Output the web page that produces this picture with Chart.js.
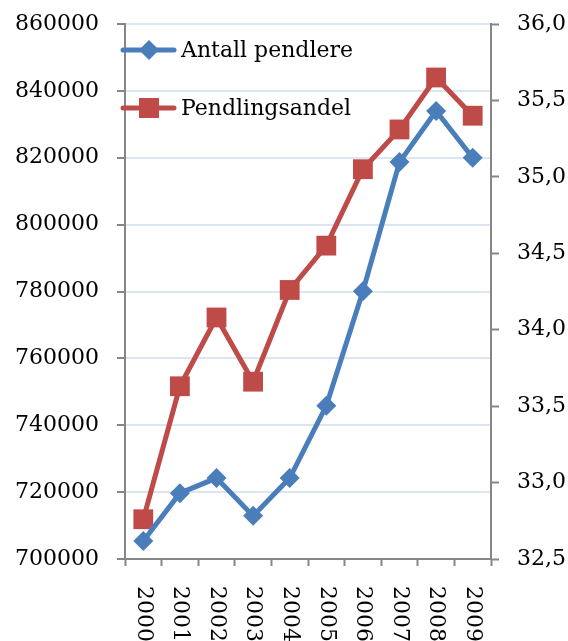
<!DOCTYPE html>
<html>
<head>
<meta charset="utf-8">
<script src="https://cdn.jsdelivr.net/npm/chart.js@4/dist/chart.umd.min.js"></script>
<style>
  html, body { margin: 0; padding: 0; background: #fff; }
  #wrap { width: 568px; height: 641px; }
</style>
</head>
<body>
<div id="wrap"><canvas id="pendlingChart" width="568" height="641"></canvas></div>
<script>
const years = ['2000', '2001', '2002', '2003', '2004', '2005', '2006', '2007', '2008', '2009'];
const pendlere = [705400, 719700, 724200, 712900, 724200, 745800, 780100, 818700, 834000, 820000];
const pendlingsandel = [32.76, 33.63, 34.08, 33.66, 34.26, 34.55, 35.05, 35.31, 35.65, 35.40];

const BLUE = '#4a7ebb';
const RED = '#be4b48';
const AXIS = '#868686';
const GRID = '#dce6f2';
const FONT = "'DejaVu Serif', 'Liberation Serif', serif";

// legend sits inside the plot, top left
const insideLegend = {
    id: 'insideLegend',
    afterDraw(chart) {
        const ctx = chart.ctx;
        const items = [
            { text: 'Antall pendlere', color: BLUE, y: 50, style: 'diamond' },
            { text: 'Pendlingsandel', color: RED, y: 108, style: 'square' }
        ];
        ctx.save();
        items.forEach(it => {
            ctx.strokeStyle = it.color;
            ctx.lineWidth = 5;
            ctx.lineCap = 'round';
            ctx.beginPath();
            ctx.moveTo(123, it.y);
            ctx.lineTo(174, it.y);
            ctx.stroke();
            ctx.fillStyle = it.color;
            ctx.beginPath();
            if (it.style === 'diamond') {
                ctx.moveTo(149 - 10, it.y);
                ctx.lineTo(149, it.y - 10);
                ctx.lineTo(149 + 10, it.y);
                ctx.lineTo(149, it.y + 10);
                ctx.closePath();
            } else {
                ctx.rect(139, it.y - 10, 20, 20);
            }
            ctx.fill();
            ctx.fillStyle = '#000';
            ctx.font = '22px ' + FONT;
            ctx.textAlign = 'left';
            ctx.textBaseline = 'middle';
            ctx.fillText(it.text, 181, it.y + 1);
        });
        ctx.restore();
    }
};

// year labels read top to bottom under each category
const yearLabels = {
    id: 'yearLabels',
    afterDraw(chart) {
        const ctx = chart.ctx;
        const x = chart.scales.x;
        ctx.save();
        ctx.fillStyle = '#000';
        ctx.font = '22px ' + FONT;
        ctx.textAlign = 'left';
        ctx.textBaseline = 'middle';
        years.forEach((y, i) => {
            ctx.save();
            ctx.translate(x.getPixelForValue(i), chart.chartArea.bottom + 27);
            ctx.rotate(Math.PI / 2);
            ctx.fillText(y, 0, 0);
            ctx.restore();
        });
        ctx.restore();
    }
};

// fixed widths, no extra room above the top tick label
const fitLeft = s => { s.width = 125; s.paddingTop = 0; };
const fitRight = s => { s.width = 77; s.paddingTop = 0; };

new Chart(document.getElementById('pendlingChart'), {
    type: 'line',
    data: {
        labels: years,
        datasets: [
            {
                label: 'Antall pendlere',
                data: pendlere,
                yAxisID: 'y',
                borderColor: BLUE,
                backgroundColor: BLUE,
                borderWidth: 5,
                pointStyle: 'rectRot',
                pointRadius: 10,
                pointBorderWidth: 0,
                tension: 0
            },
            {
                label: 'Pendlingsandel',
                data: pendlingsandel,
                yAxisID: 'y1',
                borderColor: RED,
                backgroundColor: RED,
                borderWidth: 5,
                pointStyle: 'rect',
                pointRadius: 14,
                pointBorderWidth: 0,
                tension: 0
            }
        ]
    },
    options: {
        responsive: false,
        animation: false,
        layout: { padding: { top: 24, bottom: 75, left: 0, right: 0 } },
        plugins: {
            legend: { display: false },
            tooltip: { enabled: false }
        },
        scales: {
            x: {
                offset: true,
                grid: {
                    offset: true,
                    drawOnChartArea: false,
                    tickLength: 7,
                    tickColor: AXIS,
                    tickWidth: 2
                },
                border: { color: AXIS, width: 2 },
                ticks: { display: false }
            },
            y: {
                position: 'left',
                min: 700000,
                max: 860000,
                afterFit: fitLeft,
                grid: {
                    color: GRID,
                    lineWidth: 2,
                    tickLength: 8,
                    tickColor: AXIS,
                    tickWidth: 2
                },
                border: { color: AXIS, width: 2 },
                ticks: {
                    stepSize: 20000,
                    padding: 18,
                    color: '#000',
                    font: { family: FONT, size: 22 },
                    callback: v => String(v)
                }
            },
            y1: {
                position: 'right',
                min: 32.5,
                max: 36,
                afterFit: fitRight,
                grid: {
                    drawOnChartArea: false,
                    tickLength: 8,
                    tickColor: AXIS,
                    tickWidth: 2
                },
                border: { color: AXIS, width: 2 },
                ticks: {
                    stepSize: 0.5,
                    padding: 18,
                    color: '#000',
                    font: { family: FONT, size: 22 },
                    callback: v => v.toFixed(1).replace('.', ',')
                }
            }
        }
    },
    plugins: [insideLegend, yearLabels]
});
</script>
</body>
</html>
